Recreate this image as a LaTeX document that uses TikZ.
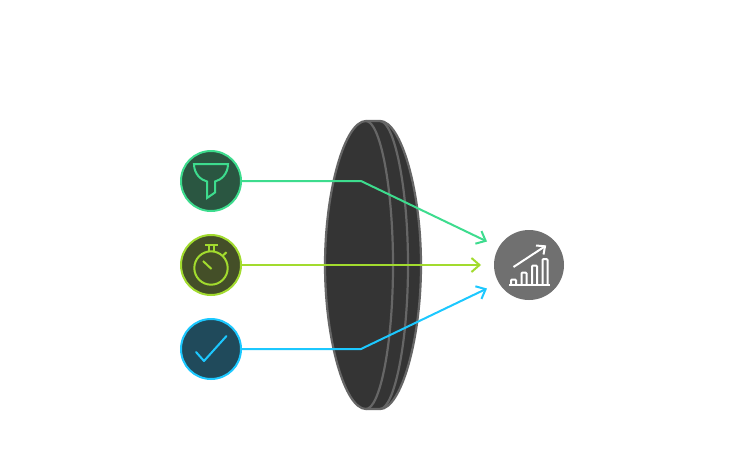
\documentclass[tikz,border=0pt]{standalone}
\usetikzlibrary{arrows.meta}
\definecolor{cgreen}{HTML}{3DDC8E}
\definecolor{clime}{HTML}{A2DB2E}
\definecolor{cblue}{HTML}{1CC8FF}
\definecolor{fgreen}{HTML}{2A5641}
\definecolor{flime}{HTML}{444F28}
\definecolor{fblue}{HTML}{204A5B}
\definecolor{lensfill}{HTML}{343434}
\definecolor{lensline}{HTML}{666666}
\definecolor{cgrey}{HTML}{707070}
\tikzset{
  badge/.style={circle,draw=#1,line width=2pt,minimum size=60pt,inner sep=0pt},
  flow/.style={draw=#1,line width=2pt,-{Straight Barb[length=8pt,width=14pt,line width=2pt]}},
  glyph/.style={draw=#1,line width=2pt,line join=miter,fill=none},
  lensarc/.style={draw=lensline,line width=2.2pt},
  barline/.style={draw=white,line width=2pt},
  bar/.style={draw=white,line width=2pt,rounded corners=1pt}
}
\begin{document}
\begin{tikzpicture}[x=1pt,y=-1pt]
\useasboundingbox (0,0) rectangle (746,458);
\fill[white] (0,0) rectangle (746,458);
% lens
\path[fill=lensfill,draw=lensline,line width=2.2pt]
  (366,121) -- (380,121)
  .. controls (401,121) and (421,190) .. (421,265)
  .. controls (421,340) and (401,409) .. (380,409)
  -- (366,409)
  .. controls (345,409) and (325,340) .. (325,265)
  .. controls (325,190) and (345,121) .. (366,121) -- cycle;
\draw[lensarc] (366,121) .. controls (380,121) and (393,186) .. (393,265)
  .. controls (393,344) and (380,409) .. (366,409);
\draw[lensarc] (380,121) .. controls (394,121) and (408,186) .. (408,265)
  .. controls (408,344) and (394,409) .. (380,409);
% nodes
\node[badge=cgreen,fill=fgreen] (filter) at (211,181) {};
\node[badge=clime,fill=flime] (timer) at (211,265) {};
\node[badge=cblue,fill=fblue] (check) at (211,349) {};
\node[circle,fill=cgrey,minimum size=70pt,inner sep=0pt] (growth) at (529,265) {};
\coordinate (b1) at (361,181);
\coordinate (b3) at (361,349);
\coordinate (t1) at (487,241.5);
\coordinate (t2) at (481,265);
\coordinate (t3) at (487,288.5);
% connectors
\draw[flow=cgreen] (filter.east) -- (b1) -- (t1);
\draw[flow=clime] (timer.east) -- (t2);
\draw[flow=cblue] (check.east) -- (b3) -- (t3);
% funnel
\draw[glyph=cgreen] (194,164) -- (228,164) .. controls (228,174) and (221,180) .. (215,181.5)
  -- (215,192.5) -- (207,198) -- (207,181.5) .. controls (201,180) and (194,174) .. (194,164) -- cycle;
% stopwatch
\draw[glyph=clime] (211,268) circle (16.7);
\draw[glyph=clime] (203,261) -- (211.5,269);
\draw[glyph=clime] (205,244.5) -- (218,244.5);
\draw[glyph=clime] (208.7,245) -- (208.7,251.5) (214.3,245) -- (214.3,251.5);
\draw[glyph=clime] (223,255.5) -- (226.5,252.2);
% check
\draw[glyph=cblue,line cap=round,line join=round] (196,352) -- (204,361) -- (226.5,336);
% growth
\draw[barline] (509,284.5) -- (550,284.5);
\draw[bar] (511,284.5) -- (511,279.5) -- (516,279.5) -- (516,284.5);
\draw[bar] (521.5,284.5) -- (521.5,272.5) -- (526.5,272.5) -- (526.5,284.5);
\draw[bar] (532,284.5) -- (532,265.5) -- (537,265.5) -- (537,284.5);
\draw[bar] (542.5,284.5) -- (542.5,259) -- (547.5,259) -- (547.5,284.5);
\draw[barline] (513.5,267) -- (545,246.3);
\draw[barline] (536,245.5) -- (545,246.3) -- (543.5,254.5);
\end{tikzpicture}
\end{document}
